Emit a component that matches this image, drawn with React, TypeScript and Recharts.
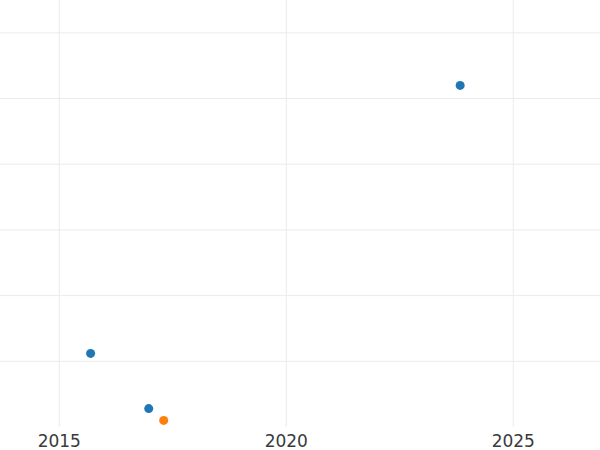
import React from "react";
import { ScatterChart, Scatter, XAxis, YAxis, CartesianGrid } from "recharts";

const blueYears = [2023.83, 2015.69, 2016.97];
const blueValues = [5.2, 1.12, 0.28];
const orangeYears = [2017.3];
const orangeValues = [0.1];

const xTicks = [2015, 2020, 2025];
const yTicks = [1, 2, 3, 4, 5, 6];

const blueData = blueYears.map((x, i) => ({ x, y: blueValues[i] }));
const orangeData = orangeYears.map((x, i) => ({ x, y: orangeValues[i] }));

export default function App() {
  return (
    <div style={{ position: "absolute", left: 0, top: 0, width: 600, height: 450, background: "#fff" }}>
      <ScatterChart width={600} height={450} margin={{ top: 0, right: 0, bottom: 0, left: 0 }}>
        <CartesianGrid stroke="#ebebeb" strokeWidth={1} horizontalValues={yTicks} verticalValues={xTicks} />
        <XAxis
          type="number"
          dataKey="x"
          domain={[2013.694, 2026.91]}
          ticks={xTicks}
          allowDataOverflow
          axisLine={false}
          tickLine={false}
          tickSize={0}
          tickMargin={8}
          height={23}
          tick={{ fill: "#3a3a3a", fontSize: 17, fontFamily: "DejaVu Sans" }}
        />
        <YAxis type="number" dataKey="y" domain={[0, 6.5]} ticks={yTicks} hide allowDataOverflow />
        <Scatter data={blueData} fill="#1f77b4" isAnimationActive={false} />
        <Scatter data={orangeData} fill="#ff7f0e" isAnimationActive={false} />
      </ScatterChart>
    </div>
  );
}
